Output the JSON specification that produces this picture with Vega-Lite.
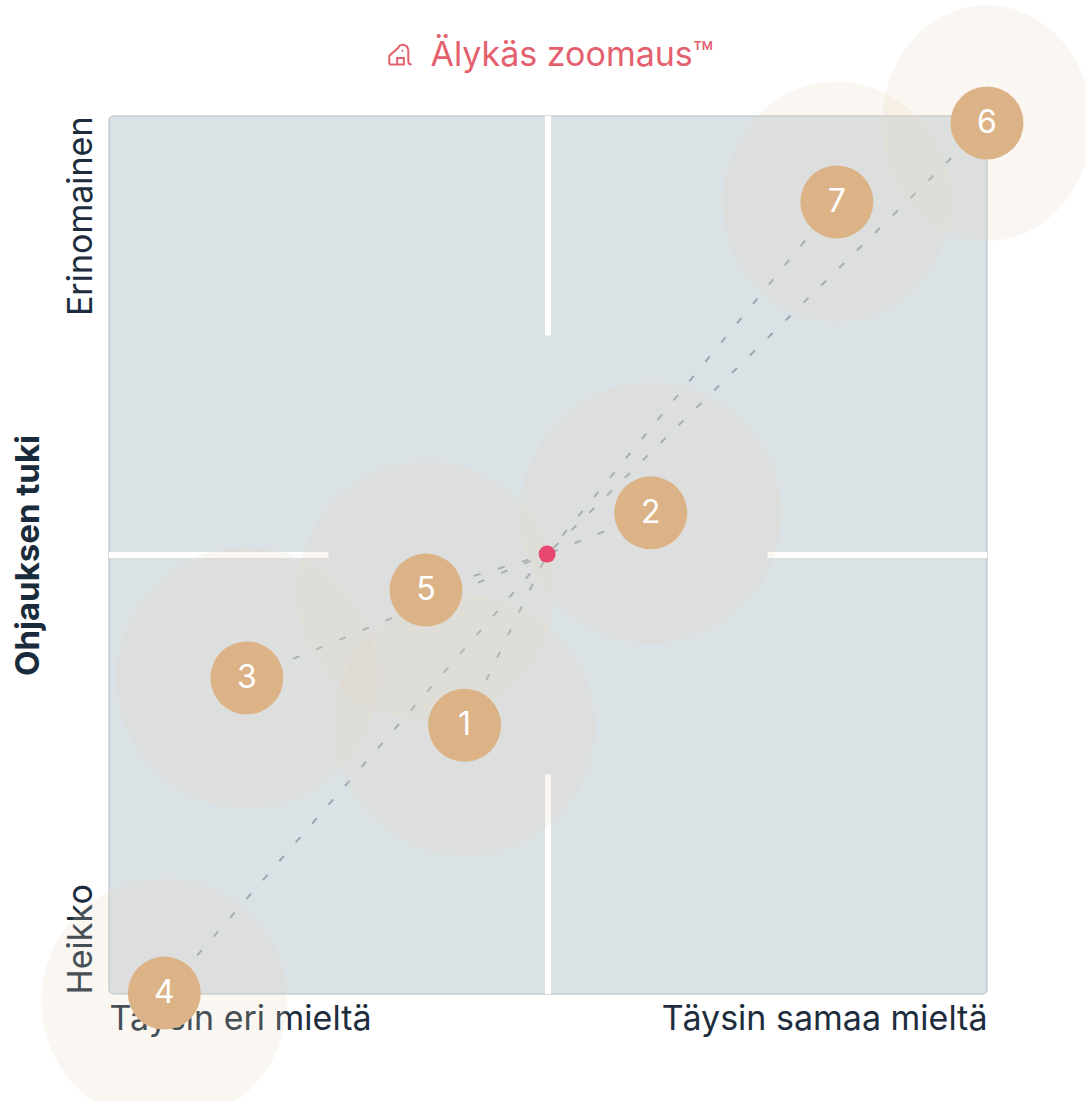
{
"$schema":"https://vega.github.io/schema/vega-lite/v6.json",
"width":878,"height":878,
"padding":{"left":109,"top":116,"right":99,"bottom":107},
"autosize":{"type":"none"},
"background":"white",
"title":{"text":"Älykäs zoomaus™","font":"Inter","fontSize":34,"fontWeight":400,"color":"#e5606f","anchor":"middle","frame":"group","dx":24,"dy":147,"offset":52,"baseline":"alphabetic"},
"datasets":{
"gaps":[{"gx":50,"gy":0,"gy2":25},{"gx":50,"gy":75,"gy2":100}],
"gaph":[{"hx":0,"hx2":25,"hy":50},{"hx":75,"hx2":100,"hy":50}],
"pts":[
{"id":"1","x":40.5,"y":30.6,"spread":14.9},
{"id":"2","x":61.7,"y":54.8,"spread":14.9},
{"id":"3","x":15.7,"y":36.0,"spread":14.9},
{"id":"4","x":6.3,"y":0.1,"spread":14.0},
{"id":"5","x":36.1,"y":46.0,"spread":14.7},
{"id":"6","x":100,"y":99.2,"spread":13.4},
{"id":"7","x":82.9,"y":90.2,"spread":13.7}
]},
"data":{"name":"pts"},
"layer":[
{"data":{"values":[{"a":0,"b":0,"a2":100,"b2":100}]},
"mark":{"type":"rect","fill":"#dae2e6","stroke":"#b3bbc2","strokeWidth":1,"cornerRadius":4},
"encoding":{"x":{"field":"a","type":"quantitative","scale":{"domain":[0,100],"nice":false,"zero":false},
"axis":{"title":null,"values":[0,100],"domain":false,"ticks":false,"grid":false,"labelFlush":true,"labelLimit":600,"labelFont":"Inter","labelFontSize":34,"labelColor":"#1d2d3d","labelPadding":8,"labelExpr":"datum.value==0?'Täysin eri mieltä':'Täysin samaa mieltä'","labelBaseline":"top"}},
"x2":{"field":"a2"},
"y":{"field":"b","type":"quantitative","scale":{"domain":[0,100],"nice":false,"zero":false},
"axis":{"title":"Ohjauksen tuki","titleFont":"Inter","titleFontSize":33,"titleFontWeight":700,"titleColor":"#1a2b3c","titlePadding":19,"values":[0,100],"domain":false,"ticks":false,"grid":false,"labelAngle":-90,"labelLimit":600,"labelFont":"Inter","labelFontSize":34,"labelColor":"#1d2d3d","labelPadding":11,"labelBaseline":"bottom","labelAlign":{"condition":{"test":"datum.value==0","value":"left"},"value":"right"},"labelExpr":"datum.value==0?'Heikko':'Erinomainen'"}},
"y2":{"field":"b2"}}},
{"data":{"name":"gaps"},"mark":{"type":"rule","color":"white","strokeWidth":6},
"encoding":{"x":{"field":"gx","type":"quantitative"},"y":{"field":"gy","type":"quantitative"},"y2":{"field":"gy2"}}},
{"data":{"name":"gaph"},"mark":{"type":"rule","color":"white","strokeWidth":6},
"encoding":{"y":{"field":"hy","type":"quantitative"},"x":{"field":"hx","type":"quantitative"},"x2":{"field":"hx2"}}},
{"mark":{"type":"rule","color":"#98a6b3","strokeWidth":2,"strokeDash":[7,18]},
"encoding":{"x":{"field":"x","type":"quantitative"},"y":{"field":"y","type":"quantitative"},"x2":{"datum":49.9},"y2":{"datum":50.1}}},
{"mark":{"type":"point","filled":true,"fill":"#e8d5c0","fillOpacity":0.2,"strokeWidth":0,"clip":false},
"encoding":{"x":{"field":"x","type":"quantitative"},"y":{"field":"y","type":"quantitative"},
"size":{"field":"spread","type":"quantitative","scale":{"type":"pow","exponent":2,"domain":[0,20],"range":[0,123337]},"legend":null},
"shape":{"field":"id","type":"nominal","legend":null,"scale":{"domain":["1","2","3","4","5","6","7"],"range":["circle","circle","circle","M-1,0.065 A1,1 0 1,0 1,0.065 A1,1 0 1,0 -1,0.065Z","circle","M-0.89,0 A0.89,1 0 1,0 0.89,0 A0.89,1 0 1,0 -0.89,0Z","M-0.95,0 A0.95,1 0 1,0 0.95,0 A0.95,1 0 1,0 -0.95,0Z"]}}}},
{"data":{"values":[{"x":49.9,"y":50.1}]},"mark":{"type":"circle","fill":"#e8476f","size":289,"opacity":1},
"encoding":{"x":{"field":"x","type":"quantitative"},"y":{"field":"y","type":"quantitative"}}},
{"mark":{"type":"circle","fill":"#dcb386","size":5329,"opacity":1},
"encoding":{"x":{"field":"x","type":"quantitative"},"y":{"field":"y","type":"quantitative"}}},
{"mark":{"type":"text","color":"white","font":"Inter","fontSize":32,"fontWeight":400,"baseline":"middle","align":"center"},
"encoding":{"x":{"field":"x","type":"quantitative"},"y":{"field":"y","type":"quantitative"},"text":{"field":"id","type":"nominal"}}},
{"data":{"values":[{"x":33.2,"y":107}]},"mark":{"type":"point","filled":false,"stroke":"#e5606f","strokeWidth":2,"size":500,"shape":"M-1,0.9 L-1,0.1 L-0.2,-0.6 C-0.1,-1 0.7,-1 0.7,-0.3 L0.7,0.6 Q0.7,0.9 1,0.9 M-1,0.9 L0.3,0.9 L0.3,0.3 L-0.3,0.3 L-0.3,0.9 M0.1,-0.35 L0.25,-0.35","opacity":1},
"encoding":{"x":{"field":"x","type":"quantitative"},"y":{"field":"y","type":"quantitative"}}}
],
"config":{"view":{"stroke":null},"axis":{"labelOverlap":false}}
}
